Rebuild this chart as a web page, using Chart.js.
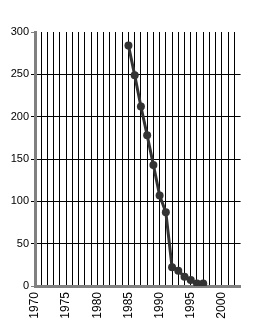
<!DOCTYPE html>
<html>
<head>
<meta charset="utf-8">
<script src="https://cdn.jsdelivr.net/npm/chart.js@4.4.0/dist/chart.umd.min.js"></script>
<style>
  html, body { margin: 0; padding: 0; background: #fff; }
</style>
</head>
<body>
<canvas id="chart" width="261" height="324"></canvas>
<script>
// valores
const years = [1985, 1986, 1987, 1988, 1989, 1990, 1991, 1992, 1993, 1994, 1995, 1996, 1997]
const values = [284, 249, 212, 178, 143, 107, 87, 22, 18, 11, 7, 3, 3]
const xMin = 1970
const xMax = 2003
const yMax = 300
const yStep = 50
const labelEvery = 5

const points = years.map((y, i) => ({ x: y, y: values[i] }))

const axisGray = '#808080'
const font = { family: 'Liberation Sans, Arial, sans-serif', size: 11 }
const xFont = { family: 'Liberation Sans, Arial, sans-serif', size: 12 }

new Chart(document.getElementById('chart'), {
  type: 'line',
  data: {
    datasets: [{
      data: points,
      borderColor: '#333',
      backgroundColor: '#333',
      borderWidth: 3,
      pointRadius: 4,
      pointBorderWidth: 0,
      tension: 0,
    }]
  },
  options: {
    responsive: false,
    animation: false,
    devicePixelRatio: 1,
    layout: { padding: { top: 32, right: 17, left: 0, bottom: 0 } },
    plugins: { legend: { display: false }, tooltip: { enabled: false } },
    scales: {
      x: {
        type: 'linear',
        min: xMin,
        max: xMax,
        afterFit: s => { s.height = 38 },
        ticks: {
          stepSize: 1,
          autoSkip: false,
          maxRotation: 90,
          minRotation: 90,
          padding: 6,
          color: '#000',
          font: xFont,
          callback: v => (v % labelEvery === 0 ? String(v) : ''),
        },
        grid: {
          color: ctx => (ctx.tick && (ctx.tick.value === xMin || ctx.tick.value === xMax) ? 'rgba(0,0,0,0)' : '#000'),
          lineWidth: 1,
          drawTicks: false,
        },
        border: { color: axisGray, width: 3 },
      },
      y: {
        min: 0,
        max: yMax,
        afterFit: s => { s.width = 35 },
        ticks: {
          stepSize: yStep,
          padding: 2,
          color: '#000',
          font: font,
        },
        grid: {
          color: ctx => (ctx.tick && (ctx.tick.value === yMax || ctx.tick.value === 0) ? 'rgba(0,0,0,0)' : '#000'),
          tickColor: ctx => (ctx.tick && (ctx.tick.value === yMax || ctx.tick.value === 0) ? axisGray : '#000'),
          tickLength: 4,
          lineWidth: 1,
        },
        border: { color: axisGray, width: 3 },
      }
    }
  }
})
</script>
</body>
</html>
